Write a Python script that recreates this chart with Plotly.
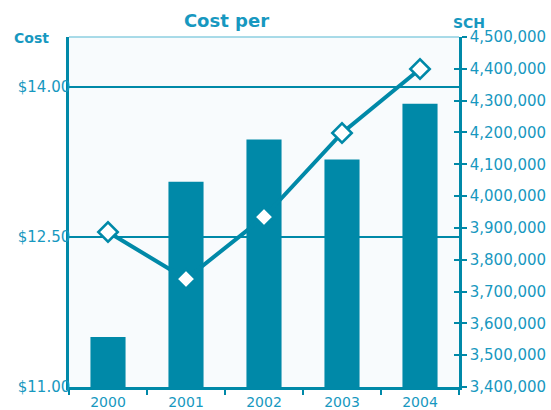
import plotly.graph_objects as go

# Fiscal years on the category axis
years = ["2000", "2001", "2002", "2003", "2004"]
# Student credit hours (right axis, bars)
sch = [3557000, 4045000, 4178000, 4115000, 4290000]
# Cost per SCH in dollars (left axis, line)
cost_per = [12.55, 12.08, 12.70, 13.54, 14.18]

cost_ticks = [11.00, 12.50, 14.00]
cost_tick_text = [f"${v:.2f}" for v in cost_ticks]
sch_ticks = [3400000, 3500000, 3600000, 3700000, 3800000, 3900000,
             4000000, 4100000, 4200000, 4300000, 4400000, 4500000]

TEAL = "#0089a8"
TEXT = "#1798c0"
FONT = "DejaVu Sans"

fig = go.Figure()

fig.add_trace(go.Bar(
    x=years, y=sch, yaxis="y",
    marker=dict(color=TEAL, line=dict(width=0)),
    width=0.45, showlegend=False,
))

fig.add_trace(go.Scatter(
    x=years, y=cost_per, yaxis="y2",
    mode="lines+markers",
    line=dict(color=TEAL, width=4),
    marker=dict(symbol="diamond", size=15, color="white",
                line=dict(color=TEAL, width=2.5)),
    showlegend=False,
))

fig.update_layout(
    width=551, height=410,
    margin=dict(l=69, r=92, t=37, b=23, autoexpand=False),
    paper_bgcolor="white",
    plot_bgcolor="#f8fbfd",
    font=dict(family=FONT, color=TEXT, size=15),
    title=dict(text="<b>Cost per</b>", x=0.411, xanchor="center",
               y=0.949, yanchor="middle",
               font=dict(family=FONT, size=18, color=TEXT)),
    xaxis=dict(
        type="category", showgrid=False, zeroline=False,
        showline=True, linecolor=TEAL, linewidth=2.5,
        ticks="outside", tickson="boundaries", ticklen=5, tickwidth=2,
        tickcolor=TEAL, tickfont=dict(size=14, color=TEXT),
        automargin=False, ticklabelstandoff=0,
    ),
    # right-hand axis: SCH (bars)
    yaxis=dict(
        side="right", range=[3400000, 4500000],
        tickvals=sch_ticks, tickformat=",d",
        showgrid=False, zeroline=False,
        showline=True, linecolor=TEAL, linewidth=2.5,
        ticks="outside", ticklen=5, tickwidth=2, tickcolor=TEAL,
        tickfont=dict(size=15, color=TEXT), automargin=False,
    ),
    # left-hand axis: cost per SCH (line)
    yaxis2=dict(
        overlaying="y", side="left", range=[11.0, 14.5],
        tickvals=cost_ticks, ticktext=cost_tick_text,
        showgrid=True, gridcolor=TEAL, gridwidth=2,
        zeroline=False, showline=True, linecolor=TEAL, linewidth=2.5,
        ticks="", tickfont=dict(size=15, color=TEXT), automargin=False,
        ticklabelstandoff=-7,
    ),
    # inner half of the right-hand tick marks
    yaxis3=dict(
        overlaying="y", side="right", range=[3400000, 4500000],
        tickvals=sch_ticks, showticklabels=False,
        showgrid=False, zeroline=False, showline=False,
        ticks="inside", ticklen=5, tickwidth=2, tickcolor=TEAL,
        automargin=False,
    ),
    shapes=[dict(type="line", xref="paper", yref="paper",
                 x0=0, x1=1, y0=1, y1=1,
                 line=dict(color="#8ccfe0", width=1.5), layer="below")],
    annotations=[
        dict(text="<b>Cost</b>", xref="paper", yref="paper",
             x=-0.0974, y=0.998, xanchor="center", yanchor="middle",
             showarrow=False, font=dict(family=FONT, size=14, color=TEXT)),
        dict(text="<b>SCH</b>", xref="paper", yref="paper",
             x=1.0256, y=1.0406, xanchor="center", yanchor="middle",
             showarrow=False, font=dict(family=FONT, size=14, color=TEXT)),
    ],
)

# an empty trace keeps the inner tick axis drawn
fig.add_trace(go.Scatter(x=[None], y=[None], yaxis="y3", showlegend=False,
                         hoverinfo="skip"))

fig.write_html("out.html")
